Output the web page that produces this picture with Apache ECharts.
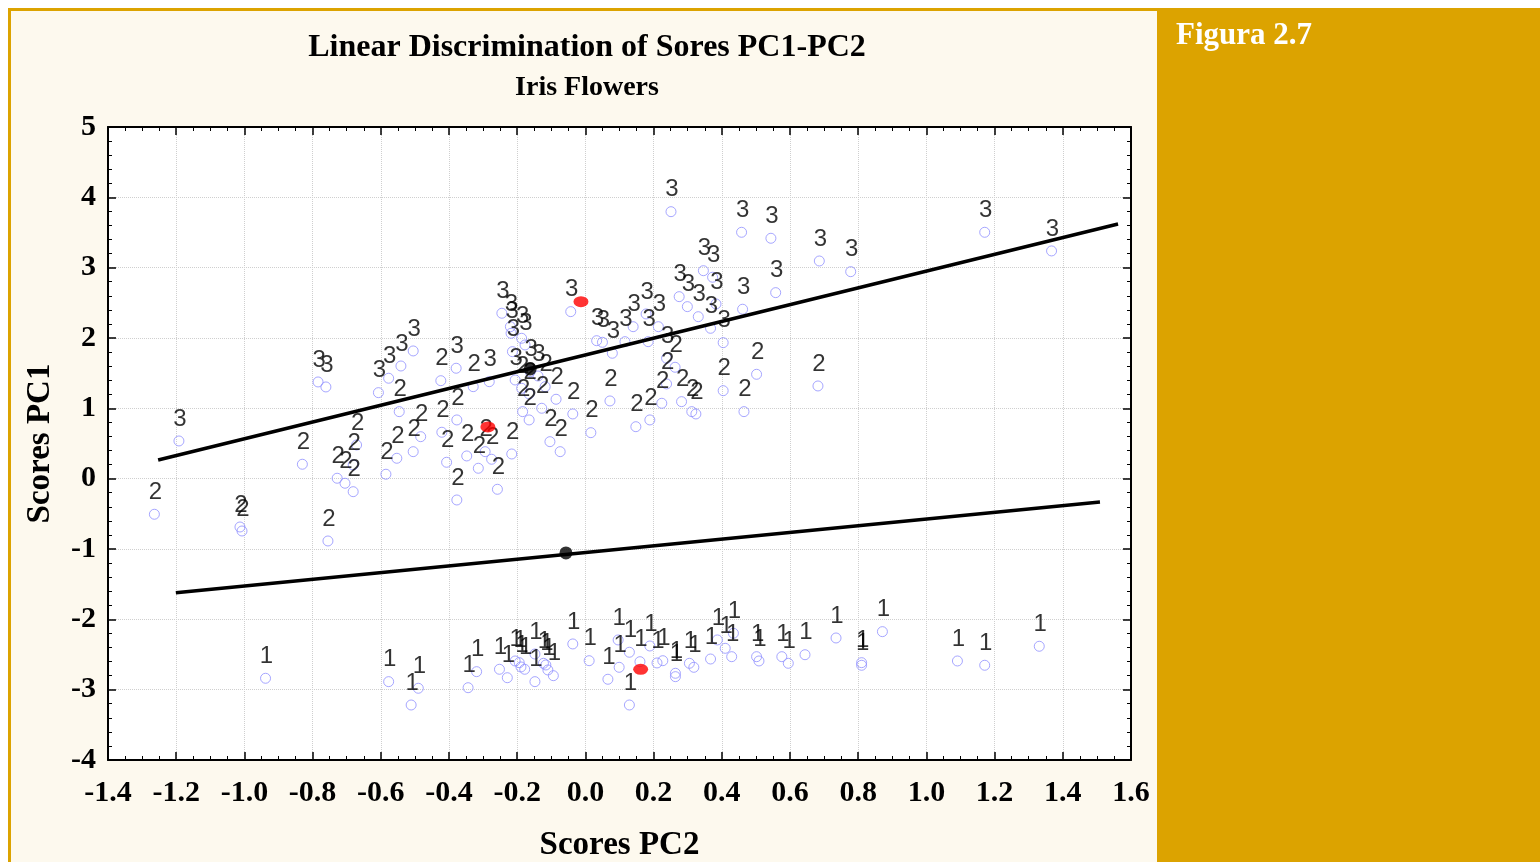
<!DOCTYPE html>
<html>
<head>
<meta charset="utf-8">
<script src="https://cdn.jsdelivr.net/npm/echarts@6/dist/echarts.min.js"></script>
<style>
html,body{margin:0;padding:0;background:#fff;}
#gold{position:absolute;left:8px;top:8px;width:1532px;height:854px;background:#DCA300;}
#cream{position:absolute;left:11px;top:11px;width:1146px;height:851px;background:#FDF9EE;}
#chart{position:absolute;left:0;top:0;width:1540px;height:862px;}
</style>
</head>
<body>
<div id="gold"></div>
<div id="cream"></div>
<div id="chart"></div>
<script>
// Scores [PC2, PC1] per class
const class1 = [[-0.938,-2.838],[-0.577,-2.886],[-0.511,-3.218],[-0.490,-2.980],[-0.344,-2.972],[-0.319,-2.744],[-0.252,-2.710],[-0.229,-2.830],[-0.206,-2.592],[-0.194,-2.616],[-0.178,-2.710],[-0.148,-2.493],[-0.148,-2.886],[-0.123,-2.625],[-0.116,-2.649],[-0.094,-2.801],[-0.037,-2.350],[0.011,-2.588],[0.066,-2.852],[0.096,-2.293],[0.099,-2.682],[0.129,-2.468],[0.129,-3.218],[0.160,-2.602],[0.189,-2.379],[0.227,-2.588],[0.264,-2.767],[0.264,-2.815],[0.305,-2.625],[0.318,-2.682],[0.367,-2.564],[0.387,-2.293],[0.410,-2.412],[0.429,-2.531],[0.434,-2.198],[0.502,-2.531],[0.509,-2.592],[0.576,-2.531],[0.595,-2.625],[0.644,-2.503],[0.735,-2.265],[0.810,-2.616],[0.810,-2.653],[0.871,-2.175],[1.091,-2.592],[1.171,-2.653],[1.331,-2.383],[-0.189,-2.677],[-0.110,-2.720],[0.210,-2.620]];
const class2 = [[-1.264,-0.506],[-1.013,-0.687],[-1.007,-0.744],[-0.755,-0.886],[-0.830,0.205],[-0.728,0.006],[-0.705,-0.065],[-0.681,-0.185],[-0.681,0.195],[-0.671,0.479],[-0.585,0.063],[-0.553,0.290],[-0.505,0.384],[-0.483,0.597],[-0.546,0.953],[-0.424,1.393],[-0.407,0.233],[-0.421,0.660],[-0.377,-0.303],[-0.377,0.835],[-0.348,0.323],[-0.314,0.148],[-0.294,0.384],[-0.275,0.276],[-0.258,-0.151],[-0.216,0.351],[-0.329,1.308],[-0.165,0.835],[-0.184,0.953],[-0.165,1.204],[-0.187,1.285],[-0.128,1.001],[-0.118,1.308],[-0.086,1.129],[-0.104,0.526],[-0.074,0.384],[-0.037,0.920],[0.016,0.654],[0.072,1.105],[0.148,0.739],[0.189,0.835],[0.224,1.072],[0.238,1.347],[0.263,1.584],[0.282,1.095],[0.312,0.953],[0.324,0.920],[0.404,1.251],[0.465,0.953],[0.502,1.484],[0.682,1.318]];
const class3 = [[-1.192,0.536],[-0.784,1.375],[-0.761,1.304],[-0.607,1.223],[-0.577,1.428],[-0.541,1.602],[-0.505,1.816],[-0.379,1.570],[-0.282,1.379],[-0.245,2.352],[-0.220,2.161],[-0.218,2.067],[-0.187,1.996],[-0.214,1.806],[-0.206,1.403],[-0.162,1.521],[-0.043,2.375],[0.033,1.962],[0.050,1.939],[0.079,1.783],[0.116,1.948],[0.140,2.161],[0.184,1.948],[0.214,2.161],[0.238,1.712],[0.251,3.796],[0.275,2.588],[0.299,2.446],[0.331,2.303],[0.346,2.957],[0.373,2.864],[0.367,2.138],[0.404,1.934],[0.458,3.503],[0.461,2.409],[0.544,3.418],[0.558,2.645],[0.686,3.095],[0.778,2.943],[1.171,3.503],[1.367,3.238],[-0.139,1.460],[0.383,2.484],[0.178,2.342],[-0.177,1.901]];
const centroids = [[0.162,-2.710],[-0.286,0.735],[-0.013,2.517]];
const boundaryPoints = [[-0.162,1.560],[-0.057,-1.056]];
const boundary23 = [[-1.253,0.266],[1.562,3.621]];
const boundary12 = [[-1.201,-1.621],[1.509,-0.331]];
const xTicks = {min:-1.4, max:1.6, step:0.2};
const yTicks = {min:-4, max:5, step:1};

const serif = 'Liberation Serif';
const chart = echarts.init(document.getElementById('chart'), null, {renderer:'canvas'});

function classSeries(name, data) {
  return {
    type:'scatter', name:name, data:data,
    symbol:'circle', symbolSize:10,
    itemStyle:{color:'rgba(0,0,0,0)', borderColor:'#9090ff', borderWidth:1},
    label:{show:true, formatter:name, position:'inside', offset:[1,-22],
      color:'#000', fontFamily:'Liberation Sans', fontSize:24},
    z:3, silent:true
  };
}
const axisCommon = {
  axisLine:{show:true, onZero:false, lineStyle:{color:'#000', width:2}},
  axisTick:{show:true, inside:true, length:8, lineStyle:{color:'#000', width:1.5}},
  minorTick:{show:true, length:4, lineStyle:{color:'#000', width:1}},
};
chart.setOption({
  animation:false,
  backgroundColor:'transparent',
  title:[
    {text:'Linear Discrimination of Sores PC1-PC2', subtext:'Iris Flowers',
     left:582, top:27, textAlign:'center', itemGap:10,
     textStyle:{fontFamily:serif, fontWeight:'bold', fontSize:32, color:'#000'},
     subtextStyle:{fontFamily:serif, fontWeight:'bold', fontSize:28, color:'#000'}},
    {text:'Figura 2.7', left:1171, top:15,
     textStyle:{fontFamily:serif, fontWeight:'bold', fontSize:31, color:'#fff'}}
  ],
  grid:{left:108, top:127, width:1023, height:633, show:true, backgroundColor:'#fff', borderWidth:0,
        outerBoundsMode:'none', containLabel:false},
  xAxis:[
    Object.assign({type:'value', min:xTicks.min, max:xTicks.max, interval:xTicks.step,
      name:'Scores PC2', nameLocation:'middle', nameGap:69,
      nameTextStyle:{fontFamily:serif, fontWeight:'bold', fontSize:33, color:'#000'},
      axisLabel:{formatter:v=>v.toFixed(1), fontFamily:serif, fontWeight:'bold', fontSize:30, color:'#000', margin:18},
      splitLine:{show:true, lineStyle:{color:'#cfcfcf', type:'dotted', width:1}}}, axisCommon,
      {minorTick:Object.assign({splitNumber:4}, axisCommon.minorTick)}),
    Object.assign({type:'value', position:'top', min:xTicks.min, max:xTicks.max, interval:xTicks.step,
      axisLabel:{show:false}, splitLine:{show:false}}, axisCommon,
      {minorTick:Object.assign({splitNumber:4}, axisCommon.minorTick)})
  ],
  yAxis:[
    Object.assign({type:'value', min:yTicks.min, max:yTicks.max, interval:yTicks.step,
      name:'Scores PC1', nameLocation:'middle', nameGap:51,
      nameTextStyle:{fontFamily:serif, fontWeight:'bold', fontSize:33, color:'#000'},
      axisLabel:{fontFamily:serif, fontWeight:'bold', fontSize:30, color:'#000', margin:12},
      splitLine:{show:true, lineStyle:{color:'#cfcfcf', type:'dotted', width:1}}}, axisCommon,
      {minorTick:Object.assign({splitNumber:5}, axisCommon.minorTick)}),
    Object.assign({type:'value', position:'right', min:yTicks.min, max:yTicks.max, interval:yTicks.step,
      axisLabel:{show:false}, splitLine:{show:false}}, axisCommon,
      {minorTick:Object.assign({splitNumber:5}, axisCommon.minorTick)})
  ],
  series:[
    {type:'line', data:boundary23, symbol:'none', lineStyle:{color:'#000', width:3.5}, z:4, silent:true},
    {type:'line', data:boundary12, symbol:'none', lineStyle:{color:'#000', width:3.5}, z:4, silent:true},
    classSeries('1', class1),
    classSeries('2', class2),
    classSeries('3', class3),
    {type:'scatter', data:centroids, symbol:'circle', symbolSize:[15,11], itemStyle:{color:'#f00'}, z:5, silent:true},
    {type:'scatter', data:boundaryPoints, symbol:'circle', symbolSize:13, itemStyle:{color:'#000'}, z:5, silent:true}
  ]
});
</script>
</body>
</html>
